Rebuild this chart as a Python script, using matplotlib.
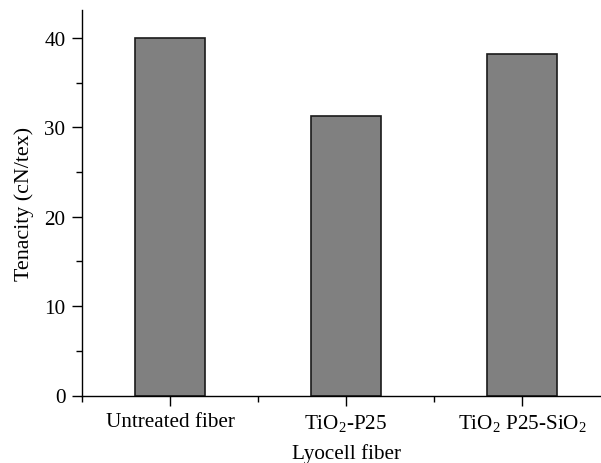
import matplotlib
matplotlib.use("Agg")
import matplotlib.pyplot as plt
from matplotlib.ticker import MultipleLocator, FixedLocator

categories = ["Untreated fiber", r"TiO$_2$-P25", r"TiO$_2$ P25-SiO$_2$"]
tenacity = [40.0, 31.3, 38.2]

plt.rcParams['font.family'] = ['Liberation Serif', 'DejaVu Serif']
plt.rcParams['mathtext.fontset'] = 'custom'
plt.rcParams['mathtext.rm'] = 'Liberation Serif'
plt.rcParams['mathtext.it'] = 'Liberation Serif:italic'

FS = 15.2
W, H = 601, 464
fig = plt.figure(figsize=(W/100, H/100), dpi=100)
left = 82 / W
bottom = (H - 396.5) / H
width = 528 / W
height = 386 / H
ax = fig.add_axes([left, bottom, width, height])

x = list(range(len(categories)))
ax.bar(x, tenacity, width=0.40, color="#808080", edgecolor="#1a1a1a", linewidth=1.2, zorder=2)

ax.set_xlim(-0.5, 2.5)
ax.set_ylim(0, 43.2)
ax.set_xticks(x)
ax.set_xticklabels(categories, fontsize=FS)
ax.xaxis.set_minor_locator(FixedLocator([-0.5, 0.5, 1.5]))
ax.yaxis.set_major_locator(MultipleLocator(10))
ax.yaxis.set_minor_locator(MultipleLocator(5))
ax.tick_params(axis='both', which='major', direction='out', length=7, width=1, labelsize=FS, pad=5)
ax.tick_params(axis='both', which='minor', direction='out', length=4, width=1)
ax.tick_params(axis='x', which='major', pad=5)

for s in ['top', 'right']:
    ax.spines[s].set_visible(False)
for s in ['left', 'bottom']:
    ax.spines[s].set_linewidth(1.0)

ax.set_ylabel("Tenacity (cN/tex)", fontsize=15.8, labelpad=7)
ax.set_xlabel("Lyocell fiber", fontsize=FS, labelpad=7)

fig.savefig("out.png", dpi=100)
